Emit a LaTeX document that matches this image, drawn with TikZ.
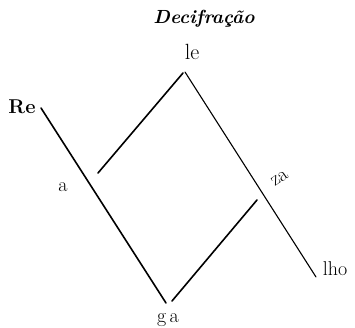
\documentclass[tikz,border=0pt]{standalone}
\usetikzlibrary{positioning}

\begin{document}
\begin{tikzpicture}[
  x=1pt, y=-1pt,
  word/.style = {inner sep=0pt, anchor=base, font=\fontsize{20}{22}\selectfont},
  heading/.style = {inner sep=0pt, anchor=base, font=\fontsize{19}{22}\selectfont\bfseries\itshape},
  stroke/.style = {line width=1.6pt, line cap=round},
  thin stroke/.style = {line width=1.1pt, line cap=round}
]
  \useasboundingbox (0,0) rectangle (355,328);

  % Nodes
  \node[heading] (title) at (204,24) {Decifração};
  \node[word, font=\fontsize{22}{24}\selectfont] (le) at (192,60) {le};
  \node[word, font=\fontsize{20}{22}\selectfont\bfseries] (re) at (22,114) {Re};
  \node[word] (a) at (63,192) {a};
  \node[word, rotate=34] (za) at (282,182) {za};
  \node[word] (lho) at (335,275) {lho};
  \node[word] (ga) at (168,322) {g\,a};

  % Line ends
  \coordinate (reTop) at (41,108);
  \coordinate (reBot) at (166,303);
  \coordinate (leLeft) at (183,73);
  \coordinate (leRight) at (185,72);
  \coordinate (lhoEnd) at (316,277);
  \coordinate (aIn) at (98,173);
  \coordinate (gaIn) at (172,301);
  \coordinate (zaIn) at (257,200);

  % Lines
  \draw[stroke] (reTop) -- (reBot);
  \draw[stroke] (aIn) -- (leLeft);
  \draw[thin stroke] (leRight) -- (lhoEnd);
  \draw[stroke] (gaIn) -- (zaIn);

\end{tikzpicture}
\end{document}
